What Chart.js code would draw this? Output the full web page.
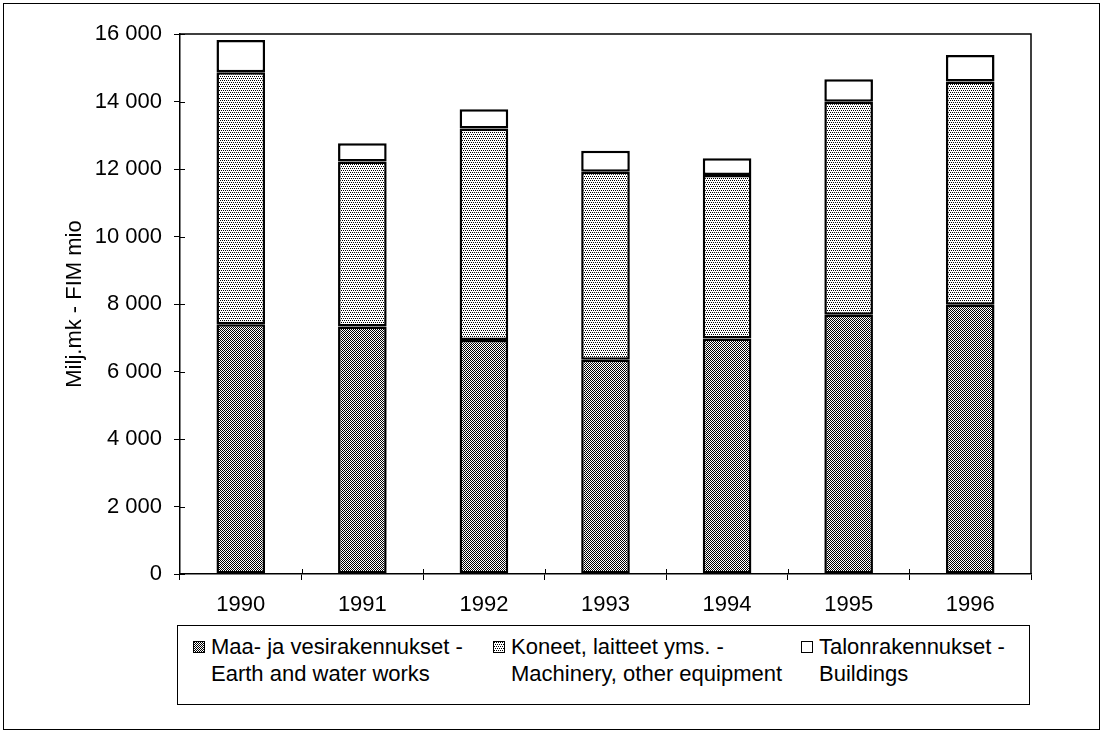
<!DOCTYPE html>
<html>
<head>
<meta charset="utf-8">
<script src="https://cdn.jsdelivr.net/npm/chart.js@4.4.1/dist/chart.umd.min.js"></script>
<style>
    body { margin: 0; background: #fff; }
    #wrap { position: relative; width: 1105px; height: 733px; font-family: "Liberation Sans", Arial, sans-serif; }
    #frame { position: absolute; left: 3px; top: 3px; width: 1097px; height: 727px; border: 1.5px solid #000; box-sizing: border-box; }
    #chart { position: absolute; left: 0; top: 0; }
    #legend { position: absolute; left: 177px; top: 625px; width: 853px; height: 80px; border: 1.5px solid #000; box-sizing: border-box; background: #fff; }
    .item { position: absolute; top: 7px; font-size: 22px; line-height: 27px; color: #000; white-space: nowrap; }
    .sw { position: absolute; left: -18px; top: 8px; width: 12px; height: 12px; border: 1.5px solid #000; box-sizing: border-box; image-rendering: pixelated; background-color: #fff; }
</style>
</head>
<body>
<div id="wrap">
    <div id="frame"></div>
    <canvas id="chart" width="1105" height="733"></canvas>
    <div id="legend"></div>
</div>
<script>
// --- datos (Milj.mk) ---
const years = ['1990', '1991', '1992', '1993', '1994', '1995', '1996'];
const earthWorks = [7400, 7330, 6930, 6350, 6980, 7680, 7980];
const machinery = [7470, 4890, 6270, 5570, 4840, 6310, 6610];
const buildings = [950, 540, 570, 620, 500, 670, 790];
const yTicks = [0, 2000, 4000, 6000, 8000, 10000, 12000, 14000, 16000];
const yTitle = 'Milj.mk - FIM mio';
const legendLines = [
    ['Maa- ja vesirakennukset -', 'Earth and water works'],
    ['Koneet, laitteet yms. -', 'Machinery, other equipment'],
    ['Talonrakennukset -', 'Buildings']
];

// tramas tipo "dither" como en el original
function makeTile(size, dots) {
    const c = document.createElement('canvas');
    c.width = size; c.height = size;
    const g = c.getContext('2d');
    g.fillStyle = '#fff';
    g.fillRect(0, 0, size, size);
    g.fillStyle = '#000';
    dots.forEach(([x, y]) => g.fillRect(x, y, 1, 1));
    return c;
}
const darkTile = makeTile(2, [[0, 0], [1, 1]]);
const lightTile = makeTile(4, [[0, 0], [2, 0], [1, 2], [3, 2]]);

const canvas = document.getElementById('chart');
const ctx = canvas.getContext('2d');
const fills = [ctx.createPattern(darkTile, 'repeat'), ctx.createPattern(lightTile, 'repeat'), '#fff'];
const swatchBg = [darkTile.toDataURL(), lightTile.toDataURL(), null];

const fmt = v => String(v).replace(/\B(?=(\d{3})+(?!\d))/g, ' ');

Chart.defaults.font.family = '"Liberation Sans", Arial, sans-serif';
Chart.defaults.font.size = 22;
Chart.defaults.color = '#000';

// marco del área de trazado + marcas hacia dentro
const plotFrame = {
    id: 'plotFrame',
    afterDraw(chart) {
        const { ctx, chartArea: a, scales: { x, y } } = chart;
        ctx.save();
        ctx.strokeStyle = '#000';
        ctx.lineWidth = 1.5;
        ctx.beginPath();
        ctx.moveTo(a.left, a.top);
        ctx.lineTo(a.right, a.top);
        ctx.lineTo(a.right, a.bottom);
        ctx.stroke();
        ctx.lineWidth = 1;
        ctx.beginPath();
        y.ticks.forEach(t => {
            const py = Math.round(y.getPixelForValue(t.value)) + 0.5;
            ctx.moveTo(a.left, py);
            ctx.lineTo(a.left + 5, py);
        });
        for (let i = 1; i < years.length; i++) {
            const px = Math.round((x.getPixelForValue(i - 1) + x.getPixelForValue(i)) / 2) + 0.5;
            ctx.moveTo(px, a.bottom);
            ctx.lineTo(px, a.bottom - 5);
        }
        ctx.stroke();
        ctx.restore();
    }
};

const datasets = [earthWorks, machinery, buildings].map((data, i) => ({
    label: legendLines[i].join(' '),
    data: data,
    backgroundColor: fills[i],
    borderColor: '#000',
    borderWidth: 2.5,
    borderSkipped: false,
    barPercentage: 0.4,
    categoryPercentage: 1
}));

new Chart(ctx, {
    type: 'bar',
    data: { labels: years, datasets: datasets },
    options: {
        responsive: false,
        animation: false,
        layout: { padding: { top: 34, right: 74, left: 0, bottom: 0 } },
        plugins: { legend: { display: false }, tooltip: { enabled: false } },
        scales: {
            x: {
                stacked: true,
                afterFit: s => { s.height = 159; },
                grid: { display: true, drawOnChartArea: false, drawTicks: true, tickLength: 6, color: '#000', offset: true },
                border: { display: true, color: '#000', width: 1.5 },
                ticks: { padding: 12, autoSkip: false, maxRotation: 0 }
            },
            y: {
                stacked: true,
                min: yTicks[0],
                max: yTicks[yTicks.length - 1],
                afterFit: s => { s.width = 180; },
                grid: { display: true, drawOnChartArea: false, drawTicks: true, tickLength: 6, color: '#000' },
                border: { display: true, color: '#000', width: 1.5 },
                ticks: { stepSize: yTicks[1] - yTicks[0], padding: 12, callback: v => fmt(v) },
                title: { display: true, text: yTitle, padding: { top: 62, bottom: 0 } }
            }
        }
    },
    plugins: [plotFrame]
});

// leyenda en dos líneas
const legend = document.getElementById('legend');
const itemLeft = [33, 333, 641];
legendLines.forEach((lines, i) => {
    const item = document.createElement('div');
    item.className = 'item';
    item.style.left = itemLeft[i] + 'px';
    const sw = document.createElement('span');
    sw.className = 'sw';
    if (swatchBg[i]) sw.style.backgroundImage = `url(${swatchBg[i]})`;
    item.appendChild(sw);
    lines.forEach(t => {
        const line = document.createElement('div');
        line.textContent = t;
        item.appendChild(line);
    });
    legend.appendChild(item);
});
</script>
</body>
</html>
